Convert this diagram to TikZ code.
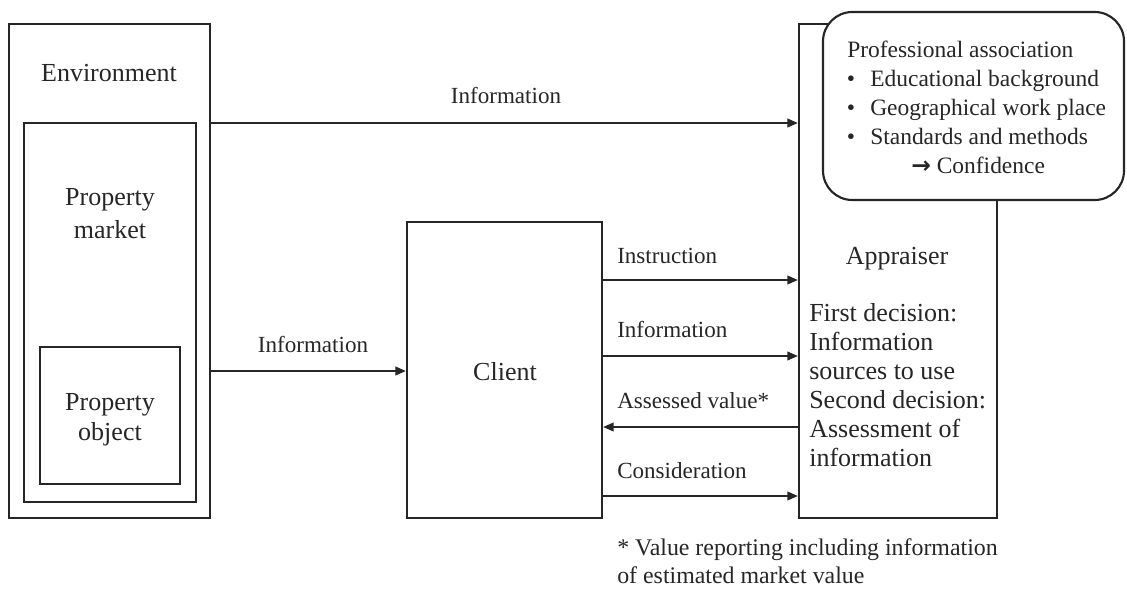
\documentclass[tikz,border=0pt]{standalone}
\usepackage{fontspec}
\setmainfont{Liberation Serif}
\newfontfamily\arrowfont{DejaVu Sans}
\usetikzlibrary{arrows.meta}
\newcommand\fntbig{\fontsize{19.5}{24}\selectfont}
\newcommand\fntlbl{\fontsize{17.3}{21}\selectfont}
\newcommand\fntrbx{\fontsize{17.6}{21.75}\selectfont}
\newcommand\fntnote{\fontsize{17.9}{21}\selectfont}
\definecolor{ink}{gray}{0.15}
\begin{document}
\begin{tikzpicture}[x=0.75pt,y=-0.75pt,
  box/.style={draw=ink, line width=1.6pt, inner sep=0pt},
  arr/.style={draw=ink, line width=1.5pt, -{Triangle[length=8pt,width=6.5pt]}},
  txt/.style={inner sep=0pt, text=ink, font=\fntbig, anchor=base},
  ltxt/.style={inner sep=0pt, text=ink, font=\fntbig, anchor=base west},
  lbl/.style={inner sep=0pt, text=ink, font=\fntlbl, anchor=base west},
  rtxt/.style={inner sep=0pt, text=ink, font=\fntrbx, anchor=base west},
  note/.style={inner sep=0pt, text=ink, font=\fntnote, anchor=base west}]
\useasboundingbox (0,0) rectangle (1127,597);
% boxes
\node[box, minimum width={201*0.75pt}, minimum height={494*0.75pt}] (env) at (109.5,271) {};
\node[box, minimum width={172*0.75pt}, minimum height={379*0.75pt}] (mkt) at (110,312.5) {};
\node[box, minimum width={140*0.75pt}, minimum height={137*0.75pt}] (obj) at (110,415.5) {};
\node[box, minimum width={195*0.75pt}, minimum height={296*0.75pt}] (client) at (504.5,370) {};
\node[box, minimum width={198*0.75pt}, minimum height={494*0.75pt}] (app) at (898,271) {};
\node[box, fill=white, rounded corners=22pt, minimum width={301*0.75pt}, minimum height={188*0.75pt}] (prof) at (973.5,106) {};
% box texts
\node[txt] (tenv) at (109,81) {Environment};
\node[txt] (tmkt1) at (110,205) {Property};
\node[txt] (tmkt2) at (110,238) {market};
\node[txt] (tobj1) at (110,410) {Property};
\node[txt] (tobj2) at (110,440) {object};
\node[txt] (tcli) at (505,380) {Client};
\node[txt] (tapp) at (897,264) {Appraiser};
\node[ltxt] (d1) at (809,321) {First decision:};
\node[ltxt] (d2) at (809,350) {Information};
\node[ltxt] (d3) at (809,379) {sources to use};
\node[ltxt] (d4) at (809,408) {Second decision:};
\node[ltxt] (d5) at (809,437) {Assessment of};
\node[ltxt] (d6) at (809,466) {information};
% professional association
\node[rtxt] (p0) at (847,57) {Professional association};
\node[rtxt, anchor=base] (b1) at (851,86) {•};
\node[rtxt, anchor=base] (b2) at (851,115) {•};
\node[rtxt, anchor=base] (b3) at (851,144) {•};
\node[rtxt] (p1) at (870,86) {Educational background};
\node[rtxt] (p2) at (870,115) {Geographical work place};
\node[rtxt] (p3) at (870,144) {Standards and methods};
\node[rtxt] (p4) at (911,173) {{\arrowfont\bfseries →} Confidence};
% connectors
\draw[arr] (env.east |- 0,123) -- (app.west |- 0,123);
\node[lbl, anchor=base] (l0) at (506,103) {Information};
\draw[arr] (env.east |- 0,371) -- (client.west |- 0,371);
\node[lbl, anchor=base] (l1) at (313,352) {Information};
\draw[arr] (client.east |- 0,280) -- (app.west |- 0,280);
\node[lbl] (l2) at (617,263) {Instruction};
\draw[arr] (client.east |- 0,356) -- (app.west |- 0,356);
\node[lbl] (l3) at (617,337) {Information};
\draw[arr] (app.west |- 0,427) -- (client.east |- 0,427);
\node[lbl] (l4) at (617,408) {Assessed value*};
\draw[arr] (client.east |- 0,496) -- (app.west |- 0,496);
\node[lbl] (l5) at (617,478) {Consideration};
% footnote
\node[note] (n1) at (617,555) {* Value reporting including information};
\node[note] (n2) at (617,583) {of estimated market value};
\end{tikzpicture}
\end{document}
